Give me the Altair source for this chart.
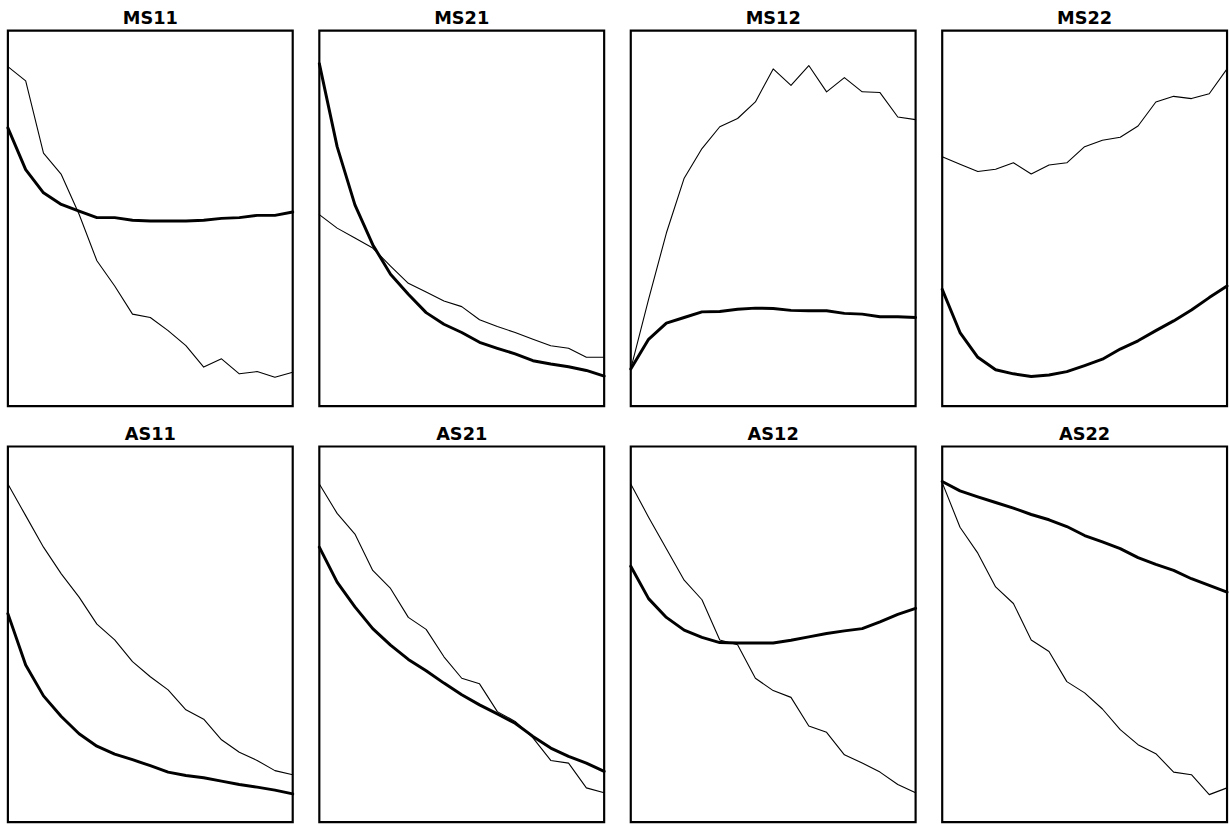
import altair as alt
import pandas as pd

# x positions (17 samples per curve)
steps = list(range(17))

panel_names = ["MS11", "MS21", "MS12", "MS22", "AS11", "AS21", "AS12", "AS22"]

# thin curves (normalised 0-100 within each frame)
ms11_thin = [90.4, 86.6, 67.4, 61.7, 51.1, 38.7, 32.0, 24.5, 23.6, 20.1, 16.1, 10.4, 12.6, 8.6, 9.2, 7.7, 9.0]
ms21_thin = [51.0, 47.4, 44.8, 42.1, 37.3, 32.7, 30.4, 28.0, 26.5, 23.0, 21.2, 19.6, 17.8, 16.1, 15.4, 13.0, 13.0]
ms12_thin = [9.9, 28.4, 46.1, 60.7, 68.6, 74.4, 76.6, 81.0, 89.8, 85.4, 90.7, 83.7, 87.5, 83.7, 83.5, 77.0, 76.3]
ms22_thin = [66.4, 64.4, 62.5, 63.1, 64.8, 61.8, 64.2, 64.8, 69.1, 70.8, 71.6, 74.6, 81.0, 82.5, 81.9, 83.2, 89.8]
as11_thin = [90.0, 81.6, 73.2, 66.1, 59.9, 52.7, 48.5, 42.7, 38.7, 35.2, 29.9, 27.4, 21.9, 18.6, 16.4, 13.7, 12.6]
as21_thin = [90.0, 82.2, 76.7, 67.0, 62.2, 54.5, 51.3, 44.0, 38.3, 36.8, 29.4, 26.8, 22.4, 16.4, 15.7, 9.1, 7.8]
as12_thin = [90.0, 81.2, 72.8, 64.4, 59.2, 48.5, 47.2, 38.3, 35.0, 33.2, 25.6, 23.9, 17.9, 15.7, 13.3, 10.0, 7.8]
as22_thin = [90.4, 78.5, 71.6, 62.6, 58.2, 48.5, 45.4, 37.4, 34.4, 30.1, 24.6, 20.6, 18.2, 13.3, 12.6, 7.3, 9.1]

# thick curves
ms11_thick = [74.1, 63.0, 56.8, 53.7, 51.9, 50.2, 50.2, 49.5, 49.3, 49.3, 49.3, 49.5, 50.0, 50.2, 50.8, 50.8, 51.7]
ms21_thick = [91.2, 69.1, 53.6, 43.0, 35.1, 29.8, 24.9, 21.8, 19.6, 17.0, 15.4, 13.9, 12.1, 11.2, 10.5, 9.5, 8.0]
ms12_thick = [9.9, 17.8, 22.1, 23.6, 25.1, 25.2, 25.8, 26.1, 26.0, 25.5, 25.4, 25.4, 24.7, 24.5, 23.8, 23.8, 23.6]
ms22_thick = [31.1, 19.6, 13.0, 9.7, 8.6, 7.9, 8.3, 9.2, 10.8, 12.5, 15.2, 17.4, 20.1, 22.7, 25.6, 28.9, 32.0]
as11_thick = [55.5, 41.8, 33.6, 28.1, 23.5, 20.2, 18.1, 16.6, 15.0, 13.3, 12.4, 11.8, 10.9, 10.0, 9.3, 8.5, 7.5]
as21_thick = [73.2, 63.9, 57.3, 51.5, 47.1, 43.3, 40.3, 37.0, 33.9, 31.2, 28.8, 26.3, 22.8, 19.7, 17.5, 15.7, 13.5]
as12_thick = [68.1, 59.5, 54.5, 51.1, 49.2, 47.8, 47.7, 47.7, 47.7, 48.4, 49.3, 50.2, 50.9, 51.5, 53.3, 55.3, 56.9]
as22_thick = [90.7, 88.2, 86.6, 85.1, 83.6, 81.9, 80.5, 78.7, 76.3, 74.6, 72.8, 70.4, 68.6, 67.0, 64.8, 63.0, 61.2]

thin_series = [ms11_thin, ms21_thin, ms12_thin, ms22_thin, as11_thin, as21_thin, as12_thin, as22_thin]
thick_series = [ms11_thick, ms21_thick, ms12_thick, ms22_thick, as11_thick, as21_thick, as12_thick, as22_thick]

charts = []
for name, thin, thick in zip(panel_names, thin_series, thick_series):
    rows = []
    for s, v in zip(steps, thin):
        rows.append({"step": s, "value": v, "curve": "thin"})
    for s, v in zip(steps, thick):
        rows.append({"step": s, "value": v, "curve": "thick"})
    df = pd.DataFrame(rows)
    c = (
        alt.Chart(df)
        .mark_line(color="black", strokeJoin="round", strokeCap="round")
        .encode(
            x=alt.X("step:Q", scale=alt.Scale(domain=[0, 16], nice=False, zero=False), axis=None),
            y=alt.Y("value:Q", scale=alt.Scale(domain=[0, 100], nice=False), axis=None),
            detail="curve:N",
            strokeWidth=alt.StrokeWidth(
                "curve:N",
                scale=alt.Scale(domain=["thin", "thick"], range=[1.1, 3.0]),
                legend=None,
            ),
        )
        .properties(
            width=289,
            height=381,
            title=alt.TitleParams(
                text=name,
                fontSize=18,
                font="DejaVu Sans",
                fontWeight="bold",
                color="black",
                offset=3,
                anchor="middle",
            ),
        )
    )
    charts.append(c)

chart = (
    alt.concat(*charts, columns=4, spacing={"row": 16, "column": 21})
    .properties(
        padding={"left": 5, "top": 2, "right": 0, "bottom": 0},
        background="white",
    )
    .configure_view(stroke="black", strokeWidth=2.2, fill="white")
)

chart.save("out.html", embed_options={"renderer": "svg", "actions": False})
